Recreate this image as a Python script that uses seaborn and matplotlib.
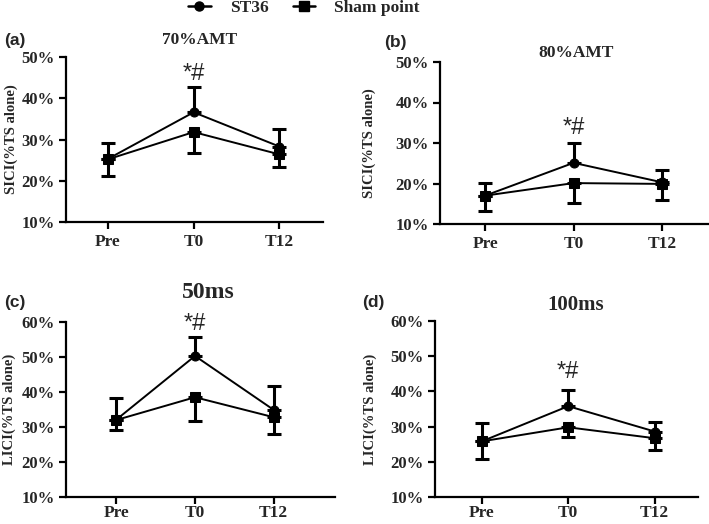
import numpy as np
import pandas as pd
import matplotlib
matplotlib.use("Agg")
import matplotlib.pyplot as plt
import seaborn as sns
from matplotlib.lines import Line2D

sns.set_theme(style="ticks")
plt.rcParams['font.family'] = ['Liberation Serif', 'DejaVu Serif']

times = ["Pre", "T0", "T12"]
groups = ["ST36", "Sham point"]

# panel (a) SICI 70%AMT
a_st36 = [25.3, 36.6, 28.3]
a_st36_up = [29.1, 42.7, 32.5]
a_sham = [25.2, 31.8, 26.4]
a_sham_lo = [21.2, 26.7, 23.4]
# panel (b) SICI 80%AMT
b_st36 = [17.0, 25.1, 20.3]
b_st36_up = [20.1, 30.0, 23.4]
b_sham = [17.0, 20.1, 19.9]
b_sham_lo = [13.1, 15.2, 16.0]
# panel (c) LICI 50ms
c_st36 = [32.1, 50.3, 34.9]
c_st36_up = [38.3, 55.8, 41.8]
c_sham = [32.0, 38.5, 32.8]
c_sham_lo = [29.2, 31.8, 28.0]
# panel (d) LICI 100ms
d_st36 = [25.8, 35.8, 28.6]
d_st36_up = [31.0, 40.4, 31.2]
d_sham = [25.8, 29.8, 26.7]
d_sham_lo = [20.7, 27.0, 23.4]

W, H = 709, 524
fig = plt.figure(figsize=(W / 100, H / 100), dpi=100)

panels = [
    dict(lab="(a)", title="70%AMT", ylab="SICI(%TS alone)",
         d=(a_st36, a_st36_up, a_sham, a_sham_lo), yt=[10, 20, 30, 40, 50],
         box=(66, 323, 57, 222), xlim=(-0.49, 2.51), tpos=(200, 40), tsize=12.5,
         lpos=(4, 41), star=46.0, ylx=11, xpad=4),
    dict(lab="(b)", title="80%AMT", ylab="SICI(%TS alone)",
         d=(b_st36, b_st36_up, b_sham, b_sham_lo), yt=[10, 20, 30, 40, 50],
         box=(440, 708, 62, 224), xlim=(-0.51, 2.52), tpos=(576, 53), tsize=12.5,
         lpos=(384, 43), star=33.8, ylx=369, xpad=4),
    dict(lab="(c)", title="50ms", ylab="LICI(%TS alone)",
         d=(c_st36, c_st36_up, c_sham, c_sham_lo), yt=[10, 20, 30, 40, 50, 60],
         box=(66, 335, 322, 497), xlim=(-0.64, 2.78), tpos=(208, 292), tsize=17,
         lpos=(4, 303), star=59.3, ylx=9, xpad=1),
    dict(lab="(d)", title="100ms", ylab="LICI(%TS alone)",
         d=(d_st36, d_st36_up, d_sham, d_sham_lo), yt=[10, 20, 30, 40, 50, 60],
         box=(435, 698, 321, 497), xlim=(-0.54, 2.5), tpos=(576, 305), tsize=15,
         lpos=(362, 303), star=45.5, ylx=370, xpad=1),
]

x = np.arange(len(times))
for p in panels:
    l, r, t, b = p["box"]
    ax = fig.add_axes([l / W, 1 - b / H, (r - l) / W, (b - t) / H])
    st, st_up, sh, sh_lo = p["d"]
    df = pd.DataFrame({
        "time": list(x) * 2,
        "value": list(st) + list(sh),
        "group": [groups[0]] * 3 + [groups[1]] * 3,
    })
    ax.errorbar(x, st, yerr=[np.zeros(3), np.array(st_up) - np.array(st)], fmt="none",
                ecolor="black", elinewidth=2.2, capsize=5, capthick=2.2, zorder=3)
    ax.errorbar(x, sh, yerr=[np.array(sh) - np.array(sh_lo), np.zeros(3)], fmt="none",
                ecolor="black", elinewidth=2.2, capsize=5, capthick=2.2, zorder=3)
    sns.lineplot(data=df, x="time", y="value", hue="group", style="group",
                 palette={groups[0]: "black", groups[1]: "black"},
                 markers={groups[0]: "o", groups[1]: "s"}, dashes=False,
                 markersize=6.5, linewidth=1.4, markeredgecolor="black",
                 ax=ax, legend=False, zorder=4)
    ax.set_xlim(*p["xlim"])
    ax.set_ylim(p["yt"][0], p["yt"][-1])
    ax.set_xticks(x)
    ax.set_xticklabels(times, fontsize=12.5, fontweight="bold")
    ax.set_yticks(p["yt"])
    ax.set_yticklabels([f"{v}%" for v in p["yt"]], fontsize=12, fontweight="bold")
    ax.set_xlabel("")
    ax.set_ylabel("")
    sns.despine(ax=ax)
    for s in ["left", "bottom"]:
        ax.spines[s].set_linewidth(1.6)
        ax.spines[s].set_color("black")
    ax.tick_params(axis="both", direction="out", width=1.6, length=5, color="black",
                   pad=3)
    ax.tick_params(axis="x", pad=p["xpad"])
    ax.text(1, p["star"], "*#", ha="center", va="center", fontsize=17,
            family=["Liberation Sans", "DejaVu Sans"], clip_on=False)
    fig.text(p["tpos"][0] / W, 1 - p["tpos"][1] / H, p["title"], ha="center", va="center",
             fontsize=p["tsize"], fontweight="bold")
    fig.text(p["lpos"][0] / W, 1 - p["lpos"][1] / H, p["lab"], ha="left", va="center",
             fontsize=12.5, fontweight="bold", family=["Liberation Sans", "DejaVu Sans"])
    fig.text(p["ylx"] / W, 1 - ((t + b) / 2) / H, p["ylab"], ha="center", va="center",
             rotation=90, fontsize=10.5, fontweight="bold")

handles = [
    Line2D([], [], color="black", marker="o", markersize=6.5, linewidth=1.8),
    Line2D([], [], color="black", marker="s", markersize=6.5, linewidth=1.8),
]
fig.legend(handles, groups, loc="center", bbox_to_anchor=(304 / W, 1 - 8 / H), ncol=2,
           frameon=False, prop={"weight": "bold", "size": 12.5}, handlelength=1.3,
           columnspacing=1.4, handletextpad=1.1, borderpad=0)

fig.savefig("out.png", dpi=100)
